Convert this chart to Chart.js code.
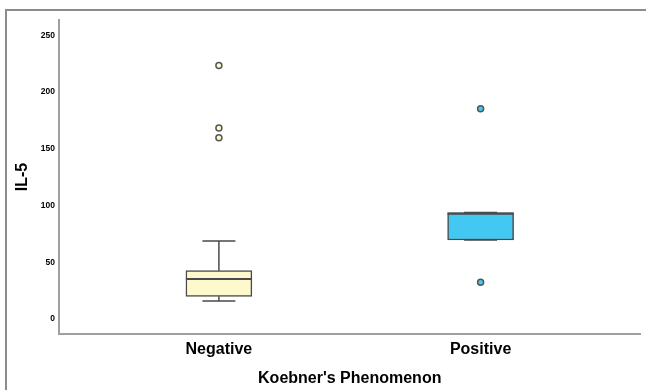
<!DOCTYPE html>
<html lang="en">
<head>
  <meta charset="utf-8">
  <title>IL-5 by Koebner's Phenomenon</title>
  <style>
    html, body { margin: 0; padding: 0; background: #fff; }
    .chartBox { width: 646px; height: 390px; }
  </style>
</head>
<body>
  <div class="chartBox">
    <canvas id="myChart" width="646" height="390"></canvas>
  </div>

  <script src="https://cdn.jsdelivr.net/npm/chart.js/dist/chart.umd.min.js"></script>
  <script>
    // data
    const categories = ['Negative', 'Positive'];
    const whiskerLow = [15.9, 69.7];
    const q1 = [20.0, 69.7];
    const median = [35.3, 92.8];
    const q3 = [42.6, 93.8];
    const whiskerHigh = [68.8, 93.8];
    const outliersNegative = [223.4, 168.4, 159.9];
    const outliersPositive = [185.4, 32.4];
    const yTicks = [0, 50, 100, 150, 200, 250];
    const boxColors = ['#fdf9cc', '#43c8f2'];

    const edge = '#4a4a4a';
    const boxWidth = 66;

    Chart.defaults.font.family = "'Liberation Sans', Arial, sans-serif";
    Chart.defaults.color = '#000';

    // outer frame
    const framePlugin = {
      id: 'frame',
      beforeDraw(chart) {
        const ctx = chart.ctx;
        ctx.save();
        ctx.fillStyle = '#fff';
        ctx.fillRect(0, 0, chart.width, chart.height);
        ctx.strokeStyle = '#8c8c8c';
        ctx.lineWidth = 2;
        ctx.beginPath();
        ctx.moveTo(6, chart.height);
        ctx.lineTo(6, 10);
        ctx.lineTo(chart.width, 10);
        ctx.stroke();
        ctx.restore();
      }
    };

    // whiskers + median
    const boxPlugin = {
      id: 'whiskers',
      afterDatasetsDraw(chart) {
        const { ctx, scales: { x, y } } = chart;
        ctx.save();
        ctx.strokeStyle = edge;
        categories.forEach((c, i) => {
          const cx = x.getPixelForValue(i + 1);
          const cap = boxWidth / 4;
          ctx.lineWidth = 1.5;
          ctx.beginPath();
          ctx.moveTo(cx, y.getPixelForValue(q3[i]));
          ctx.lineTo(cx, y.getPixelForValue(whiskerHigh[i]));
          ctx.moveTo(cx, y.getPixelForValue(q1[i]));
          ctx.lineTo(cx, y.getPixelForValue(whiskerLow[i]));
          ctx.moveTo(cx - cap, y.getPixelForValue(whiskerHigh[i]));
          ctx.lineTo(cx + cap, y.getPixelForValue(whiskerHigh[i]));
          ctx.moveTo(cx - cap, y.getPixelForValue(whiskerLow[i]));
          ctx.lineTo(cx + cap, y.getPixelForValue(whiskerLow[i]));
          ctx.stroke();
          ctx.lineWidth = 2;
          ctx.beginPath();
          ctx.moveTo(cx - boxWidth / 2, y.getPixelForValue(median[i]));
          ctx.lineTo(cx + boxWidth / 2, y.getPixelForValue(median[i]));
          ctx.stroke();
        });
        ctx.restore();
      }
    };

    const data = {
      datasets: [{
        type: 'bar',
        data: categories.map((c, i) => ({ x: i + 1, y: [q1[i], q3[i]] })),
        backgroundColor: boxColors,
        borderColor: edge,
        borderWidth: 1.5,
        borderSkipped: false,
        barThickness: boxWidth,
        order: 2
      }, {
        type: 'scatter',
        data: outliersNegative.map(v => ({ x: 1, y: v })),
        backgroundColor: boxColors[0],
        borderColor: '#555',
        borderWidth: 1.5,
        pointRadius: 3,
        order: 1
      }, {
        type: 'scatter',
        data: outliersPositive.map(v => ({ x: 2, y: v })),
        backgroundColor: boxColors[1],
        borderColor: '#555',
        borderWidth: 1.5,
        pointRadius: 3,
        order: 1
      }]
    };

    const config = {
      type: 'bar',
      data: data,
      plugins: [framePlugin, boxPlugin],
      options: {
        responsive: false,
        animation: false,
        layout: { padding: { top: 20, right: 5, left: 0, bottom: 0 } },
        plugins: { legend: { display: false }, tooltip: { enabled: false } },
        scales: {
          x: {
            type: 'linear',
            offset: false,
            min: 0.389,
            max: 2.611,
            afterBuildTicks: (s) => { s.ticks = categories.map((c, i) => ({ value: i + 1 })); },
            afterFit: (s) => { s.height = 56; },
            grid: { display: false, drawTicks: false },
            border: { color: '#a0a0a0', width: 2 },
            ticks: {
              padding: 6,
              maxRotation: 0,
              autoSkip: false,
              font: { size: 16, weight: 'bold' },
              callback: (v) => categories[v - 1]
            },
            title: {
              display: true,
              text: "Koebner's Phenomenon",
              font: { size: 16, weight: 'bold' },
              padding: { top: 0, bottom: 2 }
            }
          },
          y: {
            min: -13.2,
            max: 263.6,
            afterBuildTicks: (s) => { s.ticks = yTicks.map(v => ({ value: v })); },
            afterFit: (s) => { s.width = 59; },
            grid: { display: false, drawTicks: false },
            border: { color: '#a0a0a0', width: 2 },
            ticks: { padding: 4, font: { size: 8.5, weight: 'bold' } },
            title: {
              display: true,
              text: 'IL-5',
              font: { size: 16, weight: 'bold' },
              padding: { top: 13, bottom: 0 }
            }
          }
        }
      }
    };

    // chart instance
    const ctx = document.getElementById('myChart').getContext('2d');
    const myChart = new Chart(ctx, config);
  </script>
</body>
</html>
